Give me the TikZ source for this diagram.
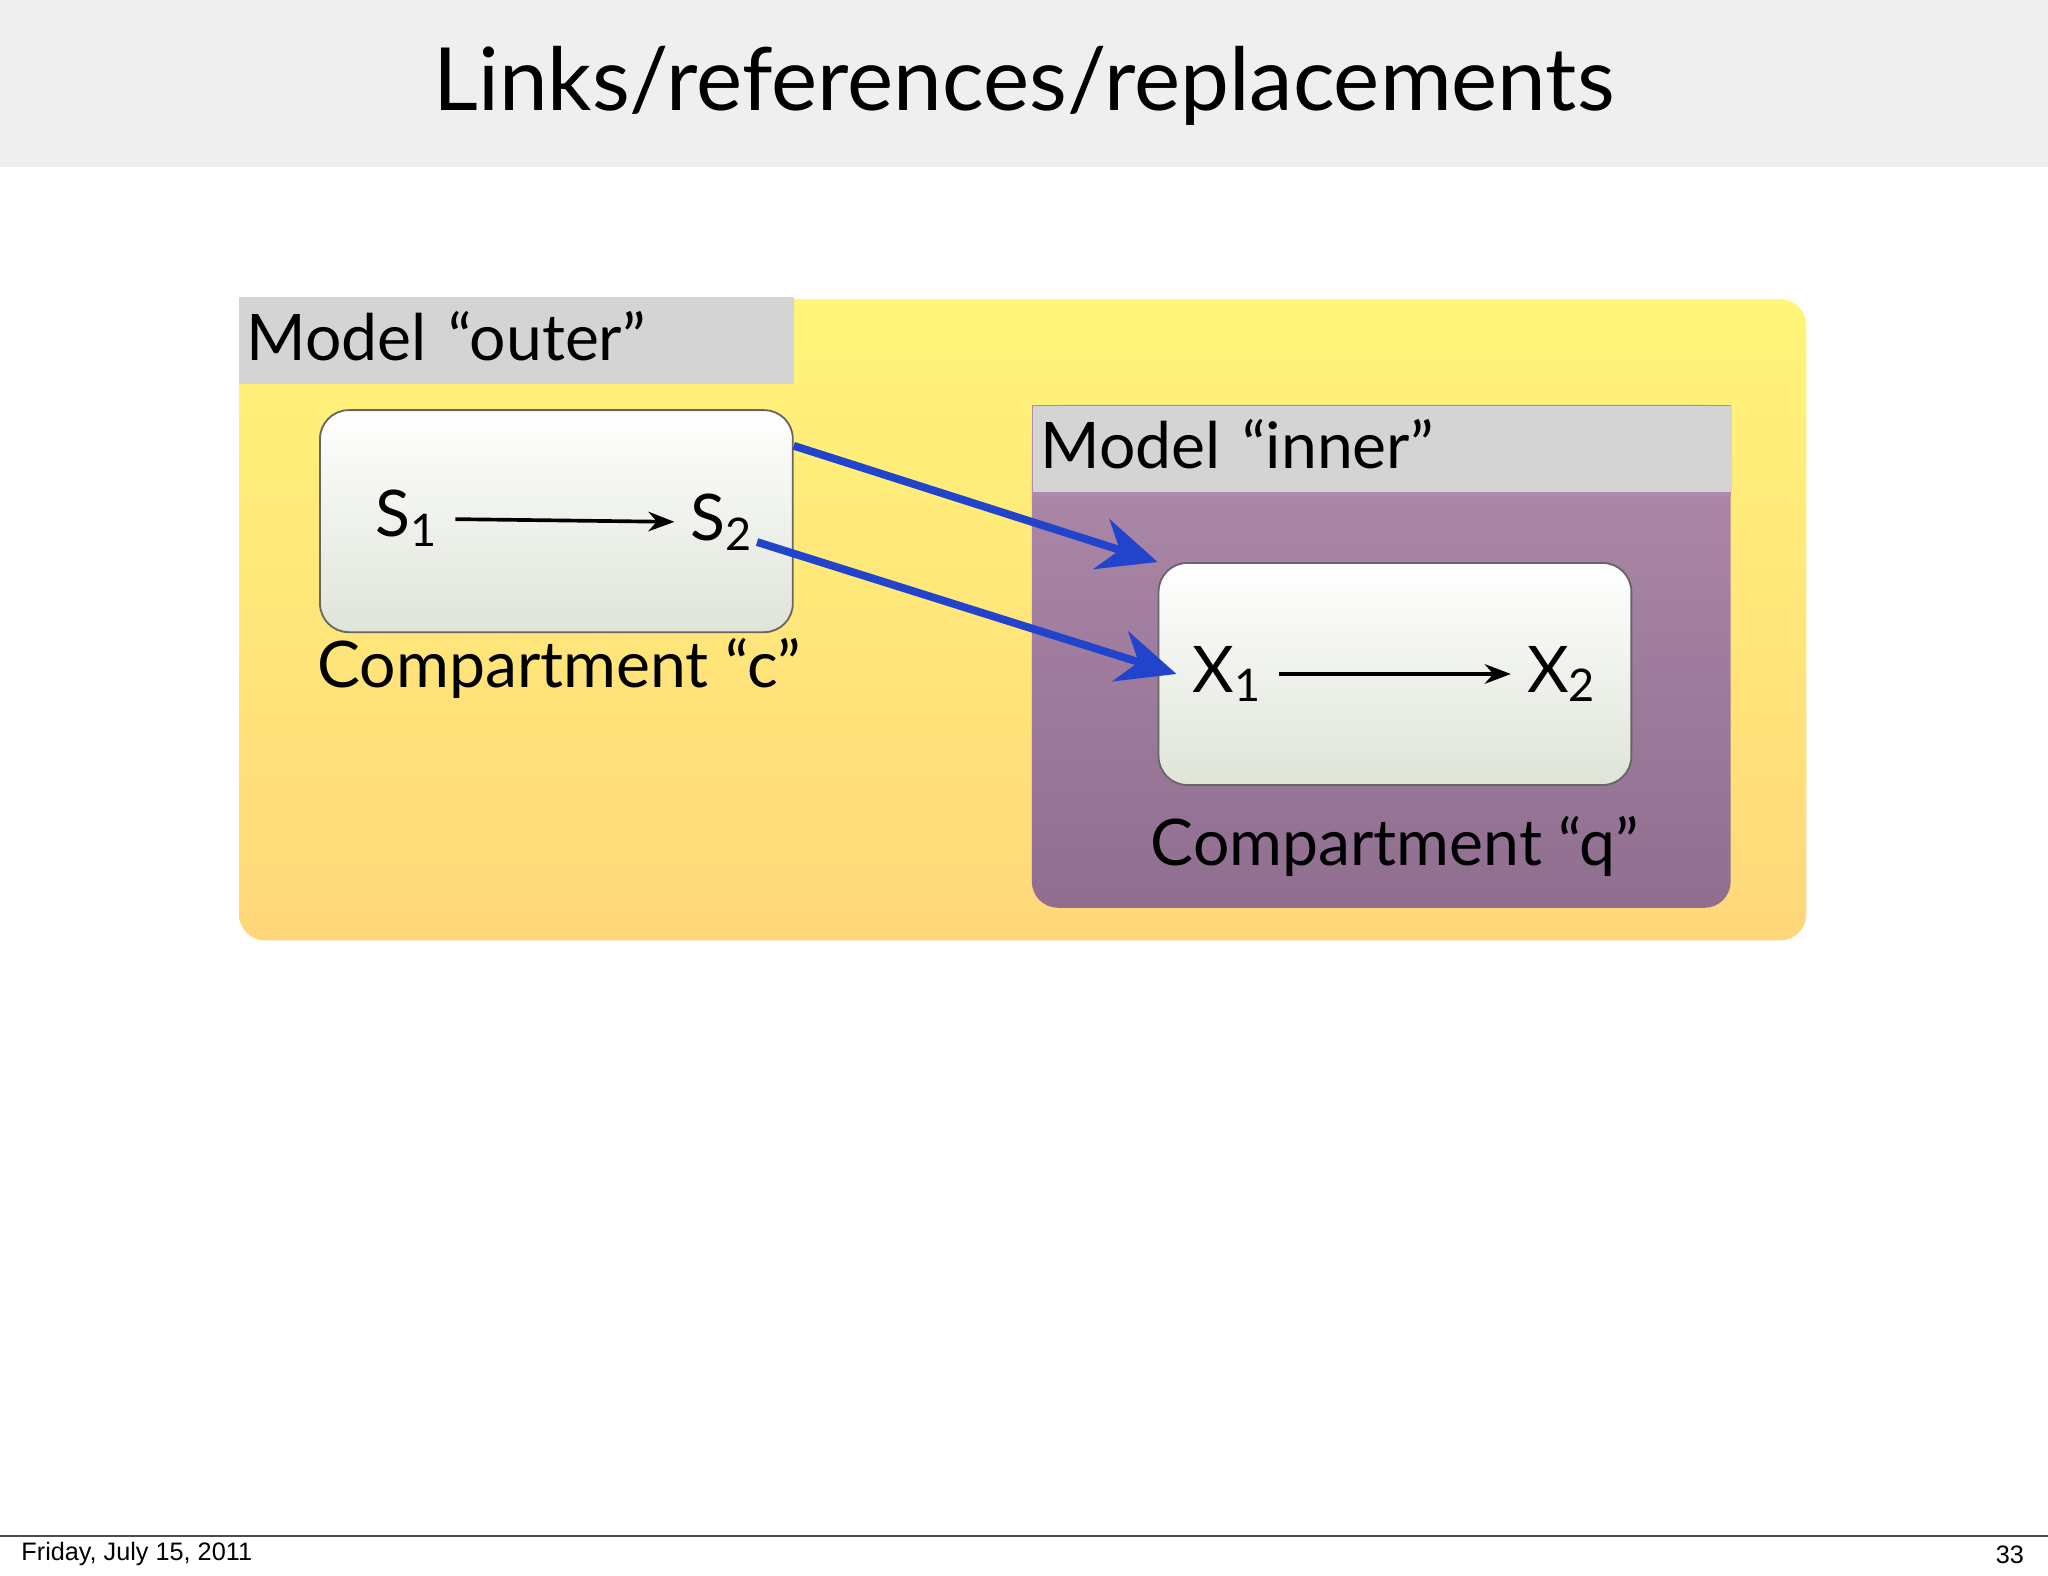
\documentclass[tikz,border=0pt]{standalone}
\usepackage{fontspec}
\setmainfont{Lato}
\newfontfamily\footfont{Liberation Sans}
\usetikzlibrary{positioning, arrows.meta}
\definecolor{titlegray}{HTML}{EFEFEF}
\definecolor{labelgray}{HTML}{D4D4D4}
\definecolor{linkblue}{HTML}{2244CC}
\definecolor{outertop}{HTML}{FFF57A}
\definecolor{outerbot}{HTML}{FFD77A}
\definecolor{innertop}{HTML}{B08BAB}
\definecolor{innerbot}{HTML}{8F6E90}
\definecolor{compbot}{HTML}{DFE4D8}
\tikzset{
  modelbox/.style={rectangle, rounded corners=0.2cm, draw=none},
  label/.style={rectangle, fill=labelgray, anchor=north west, inner sep=0.06cm, font=\fontsize{14}{17}\selectfont, text height=0.42cm, text depth=0.12cm, align=left},
  compartment/.style={rectangle, rounded corners=0.22cm, draw=black!60, top color=white, bottom color=compbot, minimum width=3.62cm, minimum height=1.70cm},
  species/.style={font=\fontsize{14}{17}\selectfont},
  caption/.style={font=\fontsize{14}{17}\selectfont},
  reaction/.style={thick, -{Stealth[length=0.2cm]}},
  link/.style={linkblue, line width=0.06cm, -{Stealth[length=0.45cm, width=0.4cm]}}
}
\begin{document}
\begin{tikzpicture}
  \useasboundingbox (0,0) rectangle (15.68,-12.06);
  % Title bar and footer
  \fill[titlegray] (0,0) rectangle (15.68,-1.28);
  \node (title) at (7.84,-0.66) {\fontsize{19}{23}\selectfont Links/references/replacements};
  \draw[black!70, thin] (0,-11.76) -- (15.68,-11.76);
  \node (date) [anchor=west, font=\fontsize{5.5}{7}\footfont] at (0.04,-11.9) {Friday, July 15, 2011};
  \node (page) [anchor=east, font=\fontsize{5.5}{7}\footfont] at (15.62,-11.9) {33};

  % Model outer
  \shade[modelbox, top color=outertop, bottom color=outerbot] (1.83,-2.29) rectangle (13.83,-7.20);
  \node (outerlabel) [label, text width=4.13cm] at (1.82,-2.27) {Model “outer”};

  % Compartment c
  \node (compc) [compartment] at (4.26,-3.99) {};
  \node (s1) [species] at (3.12,-3.97) {S\textsubscript{1}};
  \node (s2) [species] at (5.53,-4.00) {S\textsubscript{2}};
  \node (capc) [caption] at (4.28,-5.12) {Compartment “c”};

  % Model inner
  \shade[modelbox, top color=innertop, bottom color=innerbot] (7.90,-3.10) rectangle (13.25,-6.95);
  \fill[innertop] (7.90,-3.10) rectangle (13.25,-3.80);
  \node (innerlabel) [label, text width=5.23cm] at (7.90,-3.10) {Model “inner”};

  % Compartment q
  \node (compq) [compartment] at (10.68,-5.16) {};
  \node (x1) [species] at (9.40,-5.16) {X\textsubscript{1}};
  \node (x2) [species] at (11.96,-5.16) {X\textsubscript{2}};
  \node (capq) [caption] at (10.68,-6.48) {Compartment “q”};

  % Reactions
  \draw [reaction] (s1) -- (s2);
  \draw [reaction] (x1) -- (x2);

  % Links
  \draw [link] (compc.north east) ++(0,-0.28) -- (compq.north west);
  \draw [link] (s2.east) ++(-0.1,-0.15) -- (x1.west);
\end{tikzpicture}
\end{document}
